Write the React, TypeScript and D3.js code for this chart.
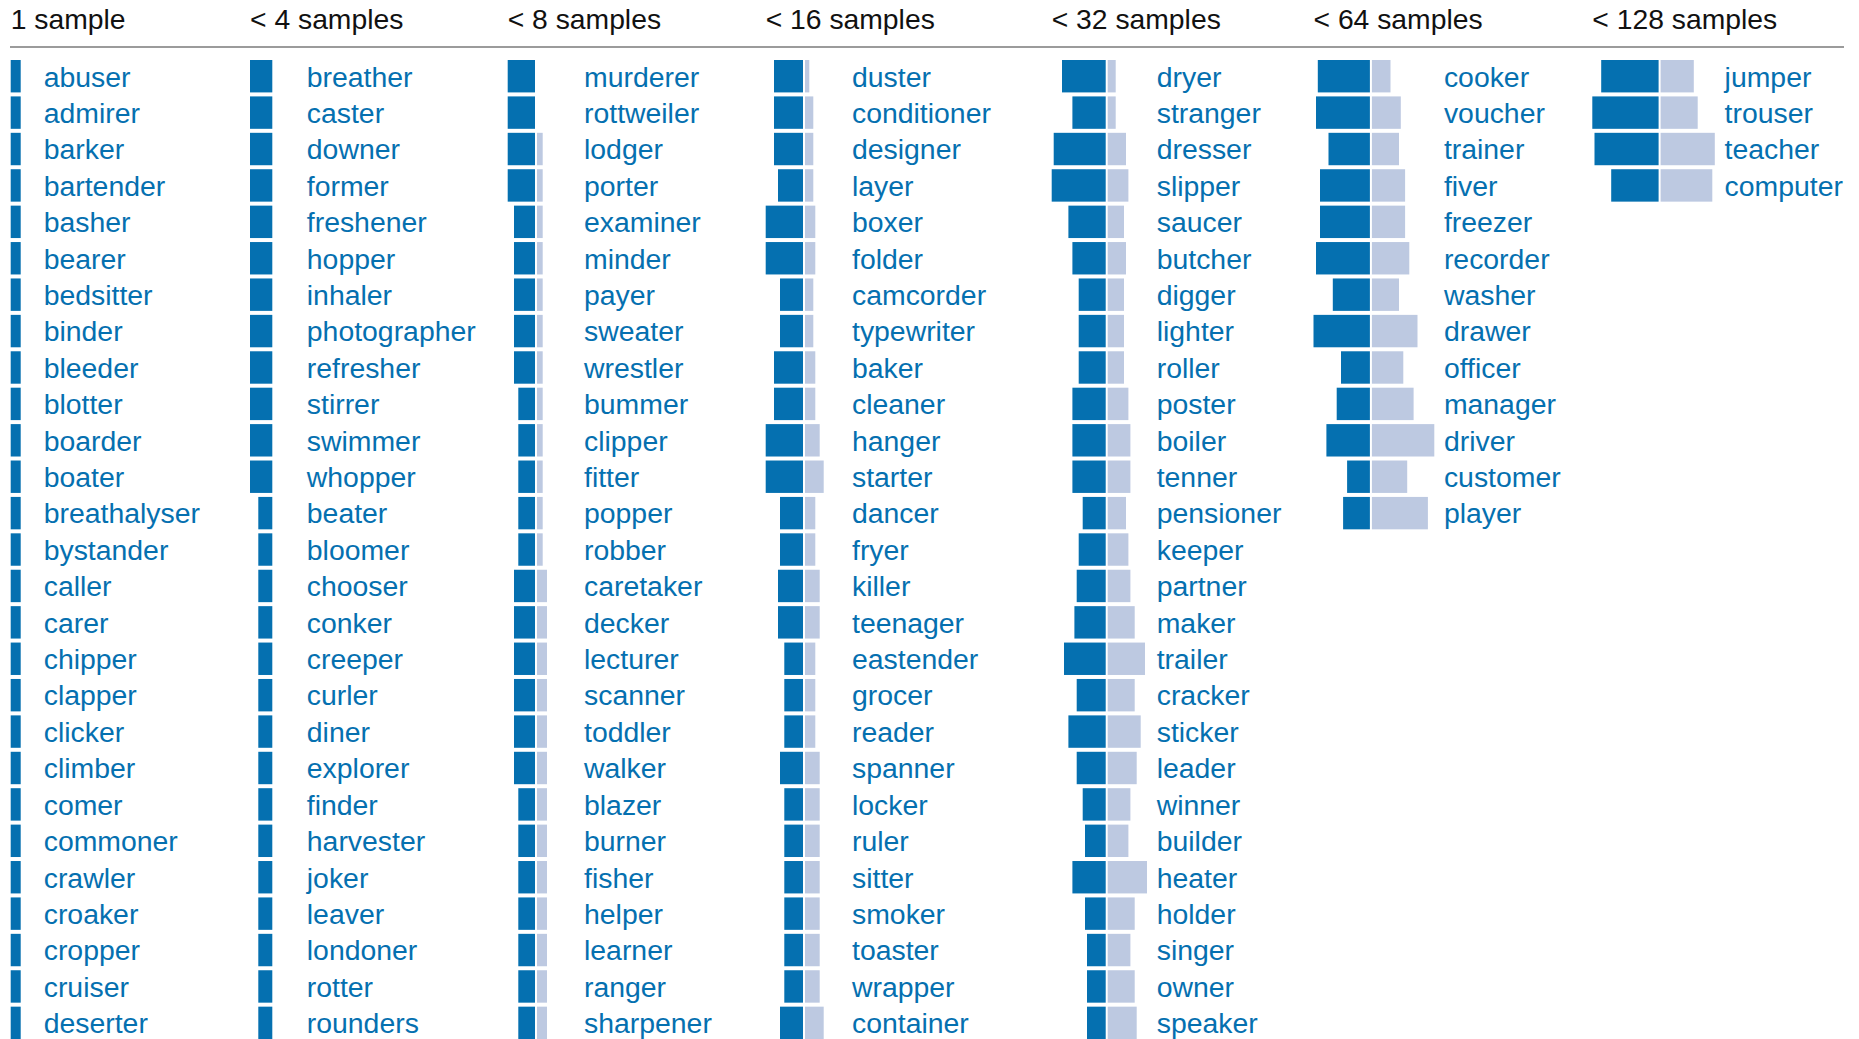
import { useRef, useEffect } from 'react';
import * as d3 from 'd3';

const WIDTH = 1859;
const HEIGHT = 1039;
const DARK = '#0570b0';
const LIGHT = '#bdc9e1';
const FONT = '"Liberation Sans", Arial, Helvetica, sans-serif';

const headers = ['1 sample', '< 4 samples', '< 8 samples', '< 16 samples', '< 32 samples', '< 64 samples', '< 128 samples'];

// words per column
const words1 = ['abuser', 'admirer', 'barker', 'bartender', 'basher', 'bearer', 'bedsitter', 'binder', 'bleeder', 'blotter', 'boarder', 'boater', 'breathalyser', 'bystander', 'caller', 'carer', 'chipper', 'clapper', 'clicker', 'climber', 'comer', 'commoner', 'crawler', 'croaker', 'cropper', 'cruiser', 'deserter'];
const words2 = ['breather', 'caster', 'downer', 'former', 'freshener', 'hopper', 'inhaler', 'photographer', 'refresher', 'stirrer', 'swimmer', 'whopper', 'beater', 'bloomer', 'chooser', 'conker', 'creeper', 'curler', 'diner', 'explorer', 'finder', 'harvester', 'joker', 'leaver', 'londoner', 'rotter', 'rounders'];
const words3 = ['murderer', 'rottweiler', 'lodger', 'porter', 'examiner', 'minder', 'payer', 'sweater', 'wrestler', 'bummer', 'clipper', 'fitter', 'popper', 'robber', 'caretaker', 'decker', 'lecturer', 'scanner', 'toddler', 'walker', 'blazer', 'burner', 'fisher', 'helper', 'learner', 'ranger', 'sharpener'];
const words4 = ['duster', 'conditioner', 'designer', 'layer', 'boxer', 'folder', 'camcorder', 'typewriter', 'baker', 'cleaner', 'hanger', 'starter', 'dancer', 'fryer', 'killer', 'teenager', 'eastender', 'grocer', 'reader', 'spanner', 'locker', 'ruler', 'sitter', 'smoker', 'toaster', 'wrapper', 'container'];
const words5 = ['dryer', 'stranger', 'dresser', 'slipper', 'saucer', 'butcher', 'digger', 'lighter', 'roller', 'poster', 'boiler', 'tenner', 'pensioner', 'keeper', 'partner', 'maker', 'trailer', 'cracker', 'sticker', 'leader', 'winner', 'builder', 'heater', 'holder', 'singer', 'owner', 'speaker'];
const words6 = ['cooker', 'voucher', 'trainer', 'fiver', 'freezer', 'recorder', 'washer', 'drawer', 'officer', 'manager', 'driver', 'customer', 'player'];
const words7 = ['jumper', 'trouser', 'teacher', 'computer'];

// left (dark) bar values
const dark1 = [10, 10, 10, 10, 10, 10, 10, 10, 10, 10, 10, 10, 10, 10, 10, 10, 10, 10, 10, 10, 10, 10, 10, 10, 10, 10, 10];
const dark2 = [22.3, 22.3, 22.3, 22.3, 22.3, 22.3, 22.3, 22.3, 22.3, 22.3, 22.3, 22.3, 14, 14, 14, 14, 14, 14, 14, 14, 14, 14, 14, 14, 14, 14, 14];
const dark3 = [27.3, 27.3, 27.3, 27.3, 21, 21, 21, 21, 21, 16.7, 16.7, 16.7, 16.7, 16.7, 21, 21, 21, 21, 21, 21, 16.7, 16.7, 16.7, 16.7, 16.7, 16.7, 16.7];
const dark4 = [29, 29, 29, 25, 37.3, 37.3, 23, 23, 29, 29, 37.3, 37.3, 23, 23, 25, 25, 18.7, 18.7, 18.7, 23, 18.7, 18.7, 18.7, 18.7, 18.7, 18.7, 23];
const dark5 = [43.7, 33.3, 52, 54, 37.3, 33.3, 27, 27, 27, 33.3, 33.3, 33.3, 23, 27, 29, 31.3, 41.7, 29, 37.3, 29, 23, 20.7, 33.3, 20.7, 18.7, 18.7, 18.7];
const dark6 = [52.1, 53.9, 41.4, 49.9, 49.9, 53.9, 37.1, 56.4, 28.9, 33.2, 43.5, 22.8, 26.8];
const dark7 = [57.4, 66.3, 64.1, 47.4];

// right (light) bar values
const light1 = [0, 0, 0, 0, 0, 0, 0, 0, 0, 0, 0, 0, 0, 0, 0, 0, 0, 0, 0, 0, 0, 0, 0, 0, 0, 0, 0];
const light2 = [0, 0, 0, 0, 0, 0, 0, 0, 0, 0, 0, 0, 0, 0, 0, 0, 0, 0, 0, 0, 0, 0, 0, 0, 0, 0, 0];
const light3 = [0, 0, 5.7, 5.7, 5.7, 5.7, 5.7, 5.7, 5.7, 5.7, 5.7, 5.7, 5.7, 5.7, 10, 10, 10, 10, 10, 10, 10, 10, 10, 10, 10, 10, 10];
const light4 = [4.3, 8.3, 8.3, 8.3, 10.3, 10.3, 8.3, 8.3, 10.3, 10.3, 14.7, 18.7, 10.3, 10.3, 14.7, 14.7, 10.3, 10.3, 10.3, 14.7, 14.7, 14.7, 14.7, 14.7, 14.7, 14.7, 18.7];
const light5 = [8, 8, 18.3, 20.7, 16.3, 18.3, 16.3, 16.3, 16.3, 20.7, 22.7, 22.7, 18.3, 20.7, 22.7, 27, 37.3, 27, 33, 29, 22.7, 20.7, 39.3, 27, 22.7, 27, 29];
const light6 = [18.6, 28.9, 27.1, 33.2, 33.2, 37.4, 27.1, 45.6, 31.4, 41.7, 62.4, 35.3, 56];
const light7 = [33.2, 37.1, 54.2, 51.7];

const words = [words1, words2, words3, words4, words5, words6, words7];
const darks = [dark1, dark2, dark3, dark4, dark5, dark6, dark7];
const lights = [light1, light2, light3, light4, light5, light6, light7];

// layout: where each column starts, and how far the word sits right of the bar axis
const COL_X = [10.7, 250, 507.7, 765.7, 1051.7, 1313.5, 1592.3];
const LABEL_GAP = [23, 34.5, 49, 49, 51, 74, 66];
const ROWS = 27;
const STEP = 36.41;
const PAD = 4 / STEP;
const TOP = 60 - STEP * PAD / 2;

export default function App() {
  const svgRef = useRef<SVGSVGElement>(null);

  useEffect(() => {
    document.body.style.margin = '0';
    if (!svgRef.current) return;
    const svg = d3.select(svgRef.current);
    svg.selectAll('*').remove();

    const y = d3.scaleBand<number>()
      .domain(d3.range(ROWS))
      .range([TOP, TOP + ROWS * STEP])
      .paddingInner(PAD)
      .paddingOuter(PAD / 2);
    const w = d3.scaleLinear().domain([0, 60]).range([0, 60]);

    svg.append('line')
      .attr('x1', 10).attr('x2', 1844).attr('y1', 47).attr('y2', 47)
      .attr('stroke', '#7a7a7a').attr('stroke-width', 1.6);

    headers.forEach((h, c) => {
      const g = svg.append('g');
      const axisX = COL_X[c] + w(d3.max(darks[c]) as number);

      g.append('text')
        .attr('x', COL_X[c]).attr('y', 28.5)
        .text(h)
        .attr('fill', '#111')
        .style('font-family', FONT).style('font-size', '28.3px');

      const rows = words[c].map((word, i) => ({ word, i, d: darks[c][i], l: lights[c][i] }));

      g.selectAll('rect.dark').data(rows).join('rect')
        .attr('class', 'dark')
        .attr('x', r => axisX - w(r.d)).attr('y', r => y(r.i) as number)
        .attr('width', r => w(r.d)).attr('height', y.bandwidth())
        .attr('fill', DARK);

      g.selectAll('rect.light').data(rows.filter(r => r.l > 0)).join('rect')
        .attr('class', 'light')
        .attr('x', axisX + 2).attr('y', r => y(r.i) as number)
        .attr('width', r => w(r.l)).attr('height', y.bandwidth())
        .attr('fill', LIGHT);

      g.selectAll('text.word').data(rows).join('text')
        .attr('class', 'word')
        .attr('x', axisX + LABEL_GAP[c])
        .attr('y', r => (y(r.i) as number) + 26.5)
        .text(r => r.word)
        .attr('fill', DARK)
        .style('font-family', FONT).style('font-size', '28.4px');
    });
  }, []);

  return (
    <svg ref={svgRef} width={WIDTH} height={HEIGHT} style={{ display: 'block', background: '#fff' }}
      role="img" aria-label="Word lists grouped by sample count with paired bars" />
  );
}
